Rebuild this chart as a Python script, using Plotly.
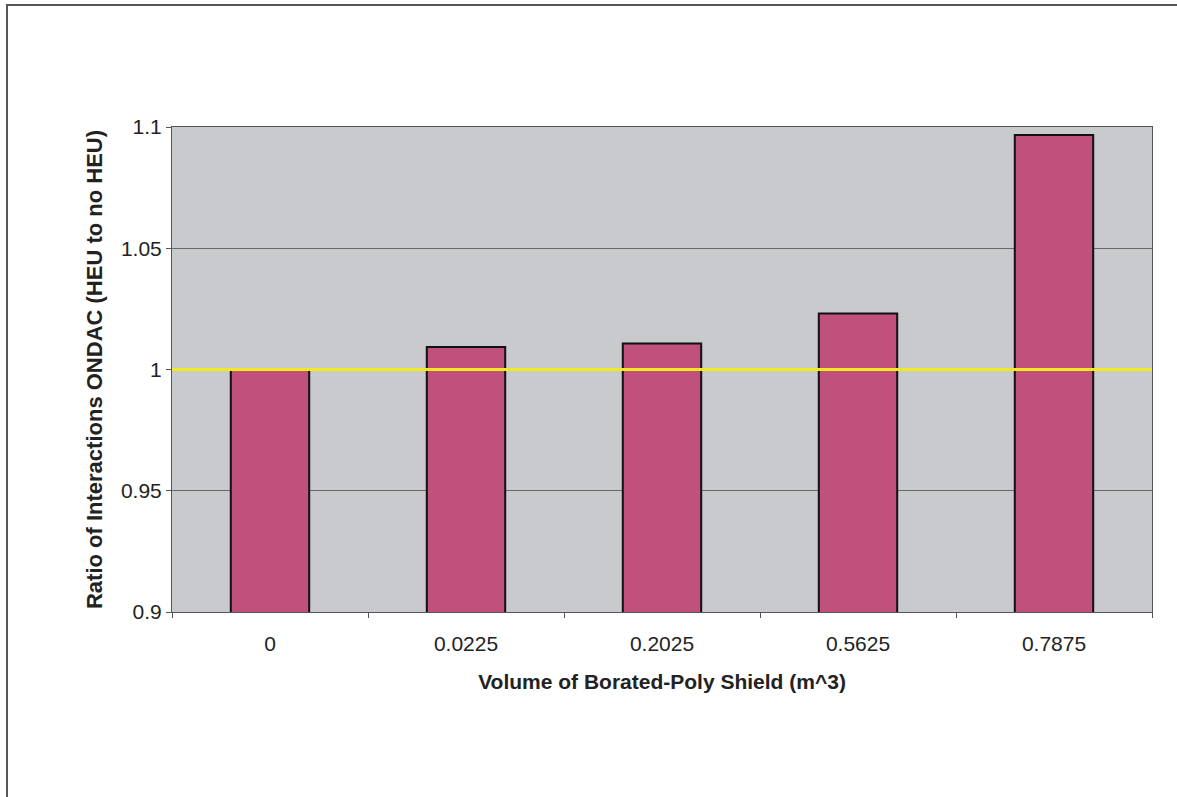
import plotly.graph_objects as go

categories = ["0", "0.0225", "0.2025", "0.5625", "0.7875"]
ratios = [1.0, 1.0093, 1.0107, 1.0231, 1.0967]
reference_ratio = 1.0
y_ticks = [0.9, 0.95, 1.0, 1.05, 1.1]
y_tick_labels = ["0.9", "0.95", "1", "1.05", "1.1"]

W, H = 1177, 797
L, R, T, B = 172, 25, 127, 185
pw, ph = W - L - R, H - T - B

fig = go.Figure()
fig.add_trace(go.Bar(
    x=categories, y=ratios,
    marker=dict(color="#c0507c", line=dict(color="#111111", width=2)),
    width=0.4,
    showlegend=False,
))

# reference line at ratio = 1
fig.add_shape(type="line", xref="x domain", yref="y",
              x0=0, x1=1, y0=reference_ratio, y1=reference_ratio,
              line=dict(color="#f0ea20", width=3), layer="above")

# outer chart frame (left and top edges visible)
fig.add_shape(type="rect", xref="paper", yref="paper",
              x0=(7 - L) / pw, x1=(W + 10 - L) / pw,
              y0=(H - B - (H + 10)) / ph, y1=(H - B - 5) / ph,
              line=dict(color="#555555", width=2), layer="below")

font = "Liberation Sans, Arial, sans-serif"
fig.update_layout(
    width=W, height=H,
    margin=dict(l=L, r=R, t=T, b=B),
    paper_bgcolor="white",
    plot_bgcolor="#c9cacd",
    font=dict(family=font, size=21, color="#222222"),
    bargap=0.6,
    xaxis=dict(
        type="category",
        title=dict(text="<b>Volume of Borated-Poly Shield (m^3)</b>", font=dict(size=21), standoff=20),
        ticks="outside", ticklen=5, tickcolor="#555555", tickson="boundaries",
        ticklabelstandoff=13,
        showline=True, linecolor="#555555", linewidth=1, mirror=True,
        showgrid=False, tickfont=dict(size=21),
    ),
    yaxis=dict(
        range=[0.9, 1.1],
        tickvals=y_ticks, ticktext=y_tick_labels,
        title=dict(text="<b>Ratio of Interactions ONDAC (HEU to no HEU)</b>", font=dict(size=22), standoff=12),
        ticks="outside", ticklen=5, tickcolor="#555555",
        showline=True, linecolor="#555555", linewidth=1, mirror=True,
        showgrid=True, gridcolor="#6a6a6a", gridwidth=1,
        zeroline=False, tickfont=dict(size=21),
    ),
)

fig.write_html("out.html", config={"displayModeBar": False},
               post_script="document.body.style.margin='0';document.body.style.overflow='hidden';")
